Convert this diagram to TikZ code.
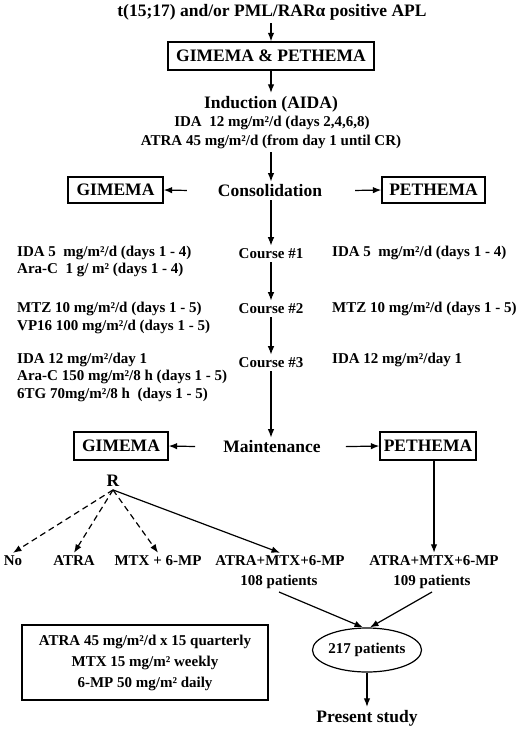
\documentclass[tikz,border=0pt]{standalone}
\usepackage{fontspec}
\setmainfont{Liberation Serif}
\usetikzlibrary{arrows.meta,shapes.geometric}
\begin{document}
\begin{tikzpicture}[x=1pt,y=-1pt,
  big/.style={font=\fontsize{17.5}{20}\selectfont\bfseries, inner sep=3pt},
  sml/.style={font=\fontsize{15}{17}\selectfont\bfseries, inner sep=3pt},
  boxed/.style={draw, line width=1.3pt, inner sep=0pt},
  arr/.style={line width=1.2pt, -{Latex[length=8.5pt,width=6.5pt]}},
  darr/.style={arr, dash pattern=on 6pt off 4pt},
]
\useasboundingbox (0,0) rectangle (520,731);
% top
\node[big] (title) at (272,12) {t(15;17) and/or PML/RARα positive APL};
\node[big,boxed,minimum width=206pt,minimum height=28pt] (gp) at (271,56) {GIMEMA \& PETHEMA};
\node[big] (ind) at (271,104) {Induction (AIDA)};
\node[sml] (ida) at (272,123) {IDA\ \ 12 mg/m²/d (days 2,4,6,8)};
\node[sml] (atra) at (271,142) {ATRA 45 mg/m²/d (from day 1 until CR)};
% consolidation
\node[big] (cons) at (270,191) {Consolidation};
\node[big,boxed,minimum width=95pt,minimum height=26pt] (gim1) at (115.5,190) {GIMEMA};
\node[big,boxed,minimum width=103pt,minimum height=26pt] (pet1) at (433.5,190) {PETHEMA};
% courses
\node[sml] (c1) at (271,254) {Course \#1};
\node[sml] (c2) at (271,309) {Course \#2};
\node[sml] (c3) at (271,363) {Course \#3};
\node[sml,anchor=west,inner sep=0pt] (l1a) at (17,253) {IDA 5\ \ mg/m²/d (days 1 - 4)};
\node[sml,anchor=west,inner sep=0pt] (l1b) at (17,270) {Ara-C\ \ 1 g/ m² (days 1 - 4)};
\node[sml,anchor=west,inner sep=0pt] (r1a) at (332,253) {IDA 5\ \ mg/m²/d (days 1 - 4)};
\node[sml,anchor=west,inner sep=0pt] (l2a) at (17,309) {MTZ 10 mg/m²/d (days 1 - 5)};
\node[sml,anchor=west,inner sep=0pt] (l2b) at (17,327) {VP16 100 mg/m²/d (days 1 - 5)};
\node[sml,anchor=west,inner sep=0pt] (r2a) at (332,309) {MTZ 10 mg/m²/d (days 1 - 5)};
\node[sml,anchor=west,inner sep=0pt] (l3a) at (17,360) {IDA 12 mg/m²/day 1};
\node[sml,anchor=west,inner sep=0pt] (l3b) at (17,377) {Ara-C 150 mg/m²/8 h (days 1 - 5)};
\node[sml,anchor=west,inner sep=0pt] (l3c) at (17,395) {6TG 70mg/m²/8 h\ \ (days 1 - 5)};
\node[sml,anchor=west,inner sep=0pt] (r3a) at (332,360) {IDA 12 mg/m²/day 1};
% maintenance
\node[big] (maint) at (272,447) {Maintenance};
\node[big,boxed,minimum width=94pt,minimum height=28pt] (gim2) at (121,446) {GIMEMA};
\node[big,boxed,minimum width=96pt,minimum height=28pt] (pet2) at (428,446) {PETHEMA};
\node[big] (R) at (113,481) {R};
% arms
\node[sml] (no) at (13,561) {No};
\node[sml] (atraarm) at (74,561) {ATRA};
\node[sml] (mtx) at (158,561) {MTX + 6-MP};
\node[sml] (all) at (280,561) {ATRA+MTX+6-MP};
\node[sml] (rall) at (434,561) {ATRA+MTX+6-MP};
\node[sml] (p108) at (279,582) {108 patients};
\node[sml] (p109) at (432,582) {109 patients};
\node[sml,draw,line width=1.2pt,ellipse,minimum width=99pt,minimum height=44pt,inner sep=0pt] (ell) at (367,650) {217 patients};
\node[big] (present) at (367,718) {Present study};
\node[sml,boxed,minimum width=246pt,minimum height=75pt,align=center,font=\fontsize{15}{21}\selectfont\bfseries] (dose) at (145,662.5) {ATRA 45 mg/m²/d x 15 quarterly\\MTX 15 mg/m² weekly\\6-MP 50 mg/m² daily};
% connectors
\draw[arr] (title.south -| gp.north) -- (gp.north);
\draw[arr] (gp.south) -- (gp.south |- ind.north);
\draw[arr] (atra.south) -- (atra.south |- cons.north);
\draw[arr,shorten <=28pt] (cons.west) -- (gim1.east);
\draw[arr,shorten <=30pt] (cons.east) -- (pet1.west);
\draw[arr] (c1.north |- cons.south) -- (c1.north);
\draw[arr] (c1.south) -- (c2.north);
\draw[arr] (c2.south) -- (c3.north);
\draw[arr] (c3.south) -- (c3.south |- maint.north);
\draw[arr,shorten <=25pt] (maint.west) -- (gim2.east);
\draw[arr,shorten <=22pt] (maint.east) -- (pet2.west);
\draw[darr] (R.south) -- (no.north);
\draw[darr] (R.south) -- (atraarm.north);
\draw[darr] (R.south) -- (mtx.north);
\draw[arr] (R.south) -- (all.north);
\draw[arr] (pet2.south -| rall.north) -- (rall.north);
\draw[arr] (p108.south) -- ([xshift=-4pt]ell.north);
\draw[arr] (p109.south) -- ([xshift=3pt]ell.north);
\draw[arr] (ell.south) -- (present.north);
\end{tikzpicture}
\end{document}
